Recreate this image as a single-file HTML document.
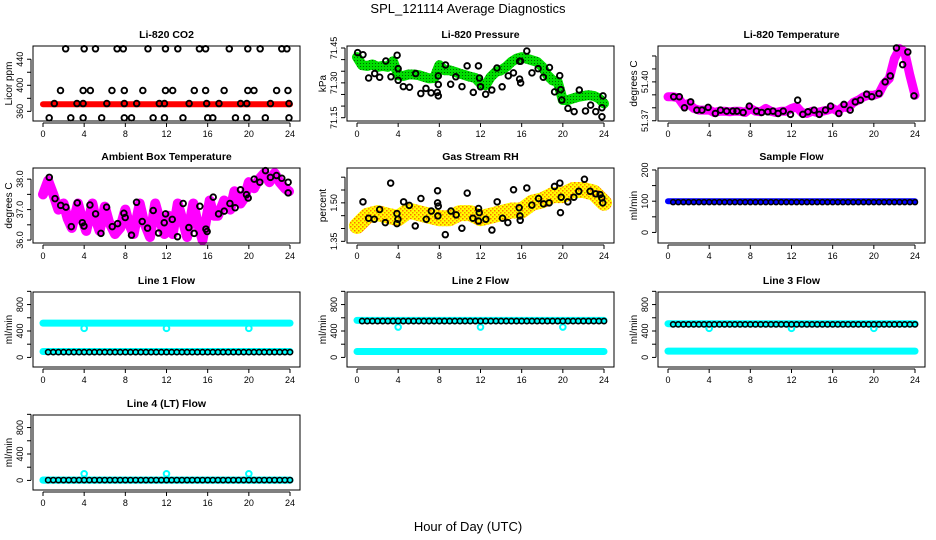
<!DOCTYPE html>
<html><head><meta charset="utf-8"><title>SPL_121114 Average Diagnostics</title>
<style>
body{margin:0;background:#fff;}
svg{display:block;font-family:"Liberation Sans",Arial,sans-serif;}
</style></head>
<body>
<svg id="fig" width="936" height="540" viewBox="0 0 936 540">
<defs>
<pattern id="rhdots" width="4" height="4" patternUnits="userSpaceOnUse"><rect width="4" height="4" fill="#ffff00"/><rect width="1.5" height="1.5" fill="#ff8c00"/><rect x="2" y="2" width="1.5" height="1.5" fill="#ff7000"/></pattern>
<pattern id="grdots" width="3" height="3" patternUnits="userSpaceOnUse"><rect width="3" height="3" fill="#00dd00"/><rect width="1" height="1" fill="#006600"/></pattern>
</defs>
<text x="468" y="13" text-anchor="middle" font-size="13">SPL_121114  Average Diagnostics</text>
<text x="468" y="531" text-anchor="middle" font-size="13">Hour of Day (UTC)</text>
</svg>
<script>
// ---- data ----
const co2Hours = [2.2,4.0,5.1,7.2,7.8,10.2,11.9,13.1,15.2,15.8,18.1,19.9,21.1,23.2,23.7, 1.7,3.9,4.6,6.7,7.9,9.7,11.9,12.6,14.7,15.8,17.6,19.9,20.5,22.7,23.8, 1.1,3.3,3.9,6.2,7.9,9.1,11.3,11.8,14.2,15.9,17.1,19.2,19.8,22.1,23.9, 0.6,2.7,3.9,5.7,7.9,8.6,10.7,11.8,13.6,16.0,16.5,18.7,19.8,21.6,23.9];
const co2Values = [456,456,456,456,456,456,456,456,456,456,456,456,456,456,456, 392,392,392,392,392,392,392,392,392,392,392,392,392,392,392, 372,372,372,372,372,372,372,372,372,372,372,372,372,372,372, 350,350,350,350,350,350,350,350,350,350,350,350,350,350,350];
const bandHours = [0,0.5,1,1.5,2,2.5,3,3.5,4,4.5,5,5.5,6,6.5,7,7.5,8,8.5,9,9.5,10,10.5,11,11.5,12,12.5,13,13.5,14,14.5,15,15.5,16,16.5,17,17.5,18,18.5,19,19.5,20,20.5,21,21.5,22,22.5,23,23.5,24];
const co2Band = [371,371,371,371,371,371,371,371,371,371,371,371,371,371,371,371,371,371,371,371,371,371,371,371,371,371,371,371,371,371,371,371,371,371,371,371,371,371,371,371,371,371,371,371,371,371,371,371,371];
const presBand = [71.411,71.376,71.373,71.379,71.369,71.373,71.369,71.393,71.333,71.330,71.336,71.336,71.333,71.326,71.319,71.321,71.376,71.354,71.354,71.347,71.340,71.333,71.326,71.321,71.297,71.290,71.326,71.347,71.354,71.369,71.390,71.404,71.411,71.404,71.397,71.390,71.369,71.333,71.311,71.304,71.226,71.226,71.233,71.240,71.244,71.247,71.244,71.233,71.211];
const presHours = [0.06,0.58,1.13,1.72,2.2,2.8,3.3,3.9,4.0,4.0,4.5,5.1,5.7,6.2,6.7,7.2,7.8,7.9,7.9,7.9,8.6,9.1,9.6,10.2,10.7,11.3,11.8,11.9,12.0,12.5,13.1,13.6,14.1,14.7,15.2,15.8,15.8,15.9,15.9,16.5,17.0,17.6,18.1,18.7,19.2,19.7,19.8,19.9,20.5,21.1,21.6,22.2,22.7,23.2,23.8,23.8,23.9];
const presValues = [71.430,71.421,71.321,71.340,71.324,71.394,71.326,71.419,71.361,71.311,71.284,71.281,71.340,71.254,71.276,71.257,71.259,71.244,71.293,71.330,71.377,71.294,71.326,71.284,71.373,71.259,71.373,71.321,71.283,71.251,71.269,71.364,71.283,71.330,71.343,71.393,71.316,71.300,71.393,71.437,71.343,71.361,71.324,71.366,71.261,71.331,71.271,71.226,71.190,71.176,71.269,71.179,71.204,71.176,71.193,71.154,71.244];
const tempBand = [51.3885,51.3885,51.3877,51.3821,51.3833,51.3795,51.3782,51.3782,51.3782,51.3764,51.3774,51.3774,51.3769,51.3774,51.3774,51.3764,51.3795,51.3774,51.3769,51.3795,51.3774,51.3764,51.3774,51.3774,51.3795,51.3808,51.3764,51.3756,51.3774,51.3764,51.3774,51.3782,51.3795,51.3774,51.3808,51.3800,51.3841,51.3859,51.3885,51.3897,51.3897,51.3910,51.3987,51.4026,51.4179,51.4256,51.4231,51.4051,51.3897];
const tempHours = [0.55,1.1,1.6,2.2,2.8,3.3,3.9,4.6,5.1,5.7,6.3,6.7,7.3,7.9,8.6,9.1,9.7,10.2,10.7,11.2,11.9,12.6,13.1,13.6,14.2,14.7,15.3,15.8,16.6,17.1,17.7,18.2,18.7,19.3,19.8,20.5,21.1,21.6,22.2,22.8,23.3,23.9];
const tempValues = [51.3885,51.3885,51.3800,51.3846,51.3782,51.3782,51.3803,51.3756,51.3782,51.3774,51.3774,51.3774,51.3764,51.3813,51.3774,51.3764,51.3769,51.3774,51.3756,51.3774,51.3749,51.3859,51.3749,51.3769,51.3782,51.3749,51.3782,51.3813,51.3756,51.3826,51.3782,51.3846,51.3859,51.3905,51.3885,51.3910,51.4000,51.4046,51.4262,51.4133,51.4231,51.3892];
const ambBandHours = [0,0.5,1,1.5,2,2.4,2.8,3.4,3.8,4.2,4.8,5.2,5.5,6.0,6.4,7.0,7.5,8.0,8.4,8.8,9.4,9.8,10.4,10.9,11.4,11.8,12.2,12.6,13.1,13.6,14.0,14.6,15.0,15.5,16.2,16.6,17.0,17.6,18.2,18.6,19.2,19.6,20.0,20.5,21.0,21.5,22.0,22.5,23.0,23.5,23.9];
const ambBand = [37.5,37.95,37.5,37.0,37.2,36.7,36.4,37.2,36.7,36.3,37.2,36.6,36.3,37.1,36.6,36.2,36.4,37.0,36.5,36.2,37.2,36.6,36.1,37.2,36.6,36.2,36.8,36.2,37.2,36.6,36.1,37.2,36.6,36.0,37.3,36.8,36.8,37.3,37.0,37.6,37.2,37.4,37.9,37.7,38.0,38.2,37.9,38.2,37.9,37.7,37.6];
const ambHours = [0.61,1.17,1.72,2.23,2.75,3.33,3.82,3.98,4.56,5.11,5.63,6.18,6.73,7.25,7.86,7.99,8.6,9.09,9.64,10.16,10.71,11.23,11.78,11.91,12.56,13.07,13.62,14.17,14.69,15.24,15.83,15.95,16.54,17.06,17.61,18.16,18.67,19.19,19.77,19.94,20.52,21.07,21.62,22.1,22.69,23.2,23.82,23.82];
const ambValues = [38.06,37.36,37.14,37.08,36.44,37.22,36.57,36.46,37.15,36.86,36.22,37.08,36.44,36.54,36.88,36.74,36.16,37.24,36.61,36.39,36.97,36.23,36.57,36.86,36.68,36.11,37.2,36.41,36.22,37.11,36.36,36.28,37.41,36.86,36.95,37.2,37.06,37.65,37.49,37.38,38.0,37.9,38.28,38.06,38.12,38.03,37.9,37.55];
const rhBandHours = [0,1,2,3,4,5,6,7,8,9,10,11,12,13,14,15,16,17,18,19,20,21,22,23,24];
const rhBand = [1.41,1.45,1.46,1.45,1.44,1.47,1.46,1.45,1.44,1.44,1.46,1.46,1.44,1.45,1.46,1.47,1.47,1.50,1.51,1.53,1.53,1.55,1.55,1.54,1.50];
const rhHours = [0.58,1.13,1.68,2.2,2.75,3.27,3.88,3.88,3.98,4.53,5.08,5.66,6.21,6.73,7.22,7.83,7.83,7.9,7.86,8.58,9.13,9.64,10.19,10.71,11.26,11.81,11.88,11.81,12.52,13.11,13.62,14.14,14.66,15.21,15.76,15.83,15.86,16.5,16.99,17.64,18.12,18.67,19.19,19.71,19.77,19.84,20.49,21.07,21.55,22.1,22.65,23.2,23.62,23.79,23.88];
const rhValues = [1.504,1.440,1.436,1.474,1.423,1.577,1.458,1.419,1.436,1.504,1.490,1.410,1.517,1.436,1.468,1.547,1.500,1.487,1.449,1.376,1.468,1.453,1.401,1.538,1.440,1.478,1.462,1.429,1.436,1.394,1.504,1.440,1.423,1.551,1.481,1.449,1.432,1.558,1.491,1.517,1.496,1.500,1.564,1.577,1.462,1.522,1.504,1.522,1.545,1.592,1.545,1.535,1.532,1.519,1.500];
const flowHours = [0.5,1,1.5,2,2.5,3,3.5,4,4.5,5,5.5,6,6.5,7,7.5,8,8.5,9,9.5,10,10.5,11,11.5,12,12.5,13,13.5,14,14.5,15,15.5,16,16.5,17,17.5,18,18.5,19,19.5,20,20.5,21,21.5,22,22.5,23,23.5,24];
const dipHours = [4,12,20];
// levels: [black circles, cyan upper band, cyan lower band, cyan dip points]
const sampleLevels = [97,100];
const line1Levels = [80,520,90,440];
const line2Levels = [550,560,90,460];
const line3Levels = [500,510,95,440];
const line4Levels = [5,5,5,100];
const xTicks = [0,4,8,12,16,20,24];

// ---- drawing ----
const NS='http://www.w3.org/2000/svg';
const svg=document.getElementById('fig');
const colLeft=[33,347,658], rowTop=[46,168,292,415], BW=267, BH=75;
function mk(tag,attrs,parent){const e=document.createElementNS(NS,tag);for(const k in attrs)e.setAttribute(k,attrs[k]);(parent||svg).appendChild(e);return e;}
function panel(name,col,row,title,ylab,ymin,ymax,yticks,ylabels){
  const g=mk('g',{});
  
  
  const L=colLeft[col],T=rowTop[row];
  const sx=h=>L+10+h*(BW-20)/24;
  const sy=v=>T+BH-(v-ymin)/(ymax-ymin)*BH;
  const plot=mk('g',{},g);
  
  
  const box=mk('rect',{x:L,y:T,width:BW,height:BH,fill:'none',stroke:'#000','stroke-width':1},g);
  
  
  const t=mk('text',{x:L+BW/2,y:T-8,'text-anchor':'middle','font-size':10.5,'font-weight':'bold'},g);
  t.textContent=title;
  
  
  const xa=mk('g',{stroke:'#000','stroke-width':1},g);
  
  
  mk('line',{x1:sx(xTicks[0]),x2:sx(xTicks[xTicks.length-1]),y1:T+BH+2,y2:T+BH+2},xa);
  xTicks.forEach(h=>{
    mk('line',{x1:sx(h),x2:sx(h),y1:T+BH+2,y2:T+BH+6},xa);
    const tl=mk('text',{x:sx(h),y:T+BH+16,'text-anchor':'middle','font-size':9,stroke:'none'},xa);
    tl.textContent=h;
    
    
  });
  const ya=mk('g',{stroke:'#000','stroke-width':1},g);
  
  
  mk('line',{x1:L-2,x2:L-2,y1:sy(yticks[0]),y2:sy(yticks[yticks.length-1])},ya);
  yticks.forEach(v=>mk('line',{x1:L-6,x2:L-2,y1:sy(v),y2:sy(v)},ya));
  ylabels.forEach(v=>{
    const yl=mk('text',{x:0,y:0,transform:`translate(${L-10},${sy(v)}) rotate(-90)`,'text-anchor':'middle','font-size':9,stroke:'none'},ya);
    yl.textContent=v;
    
    
  });
  const yt=mk('text',{x:0,y:0,transform:`translate(${L-21},${T+BH/2}) rotate(-90)`,'text-anchor':'middle','font-size':10},g);
  yt.textContent=ylab;
  
  
  return {sx,sy,plot};
}
function band(p,hs,vs,color,w,name){
  const d=hs.map((h,i)=>(i?'L':'M')+p.sx(h).toFixed(1)+','+p.sy(vs[i]).toFixed(1)).join('');
  const e=mk('path',{d,fill:'none',stroke:color,'stroke-width':w,'stroke-linecap':'round','stroke-linejoin':'round'},p.plot);
  
  
}
function pts(p,hs,vs,color,name,r,sw){
  hs.forEach((h,i)=>{
    const c=mk('circle',{cx:p.sx(h),cy:p.sy(vs[i]),r:r||2.8,fill:'none',stroke:color,'stroke-width':sw||1.9},p.plot);
    
    
  });
}
function level(arr,v){return arr.map(()=>v);}

// Panel 1
let p=panel('co2',0,0,'Li-820 CO2','Licor ppm',345.2,460.3,[360,380,400,420,440],[360,400,440]);
band(p,bandHours,co2Band,'#ff0000',6,'co2-band');
pts(p,co2Hours,co2Values,'#000','co2-point');
// Panel 2
p=panel('pressure',1,0,'Li-820 Pressure','kPa',71.1358,71.4586,[71.15,71.2,71.25,71.3,71.35,71.4,71.45],['71.15','71.30','71.45']);
band(p,bandHours,presBand,'url(#grdots)',10,'pressure-band');
pts(p,presHours,presValues,'#000','pressure-point');
// Panel 3
p=panel('temperature',2,0,'Li-820 Temperature','degrees C',51.3698,51.4277,[51.37,51.38,51.39,51.4,51.41,51.42],['51.37','51.40']);
band(p,bandHours,tempBand,'#ff00ff',9,'temperature-band');
pts(p,tempHours,tempValues,'#000','temperature-point');
// Panel 4
p=panel('ambient',0,1,'Ambient Box Temperature','degrees C',35.903,38.366,[36,36.5,37,37.5,38],['36.0','37.0','38.0']);
band(p,ambBandHours,ambBand,'#ff00ff',10,'ambient-band');
pts(p,ambHours,ambValues,'#000','ambient-point');
// Panel 5
p=panel('rh',1,1,'Gas Stream RH','percent',1.3435,1.6358,[1.35,1.4,1.45,1.5,1.55,1.6],['1.35','1.50']);
band(p,rhBandHours,rhBand,'url(#rhdots)',16,'rh-band');
pts(p,rhHours,rhValues,'#000','rh-point');
// Panel 6
p=panel('sample-flow',2,1,'Sample Flow','ml/min',-33.8,206.3,[0,50,100,150,200],[0,100,200]);
band(p,[0].concat(flowHours),level([0].concat(flowHours),sampleLevels[1]),'#0000ff',6,'sample-flow-band');
pts(p,flowHours,level(flowHours,sampleLevels[0]),'#000','sample-flow-point',2.5,1.5);
// Flow panels
const flowTicks=[0,200,400,600,800,1000];
function flowPanel(name,col,row,title,lv){
  const q=panel(name,col,row,title,'ml/min',-145,990,flowTicks,[0,400,800]);
  band(q,[0].concat(flowHours),level([0].concat(flowHours),lv[1]),'#00ffff',7,name+'-cyan-upper');
  band(q,[0].concat(flowHours),level([0].concat(flowHours),lv[2]),'#00ffff',7,name+'-cyan-lower');
  pts(q,dipHours,level(dipHours,lv[3]),'#00ffff',name+'-cyan-dip',2.8,2);
  pts(q,flowHours,level(flowHours,lv[0]),'#000',name+'-point',2.6,1.6);
}
flowPanel('line1-flow',0,2,'Line 1 Flow',line1Levels);
flowPanel('line2-flow',1,2,'Line 2 Flow',line2Levels);
flowPanel('line3-flow',2,2,'Line 3 Flow',line3Levels);
flowPanel('line4-flow',0,3,'Line 4 (LT) Flow',line4Levels);
</script>
</body></html>
